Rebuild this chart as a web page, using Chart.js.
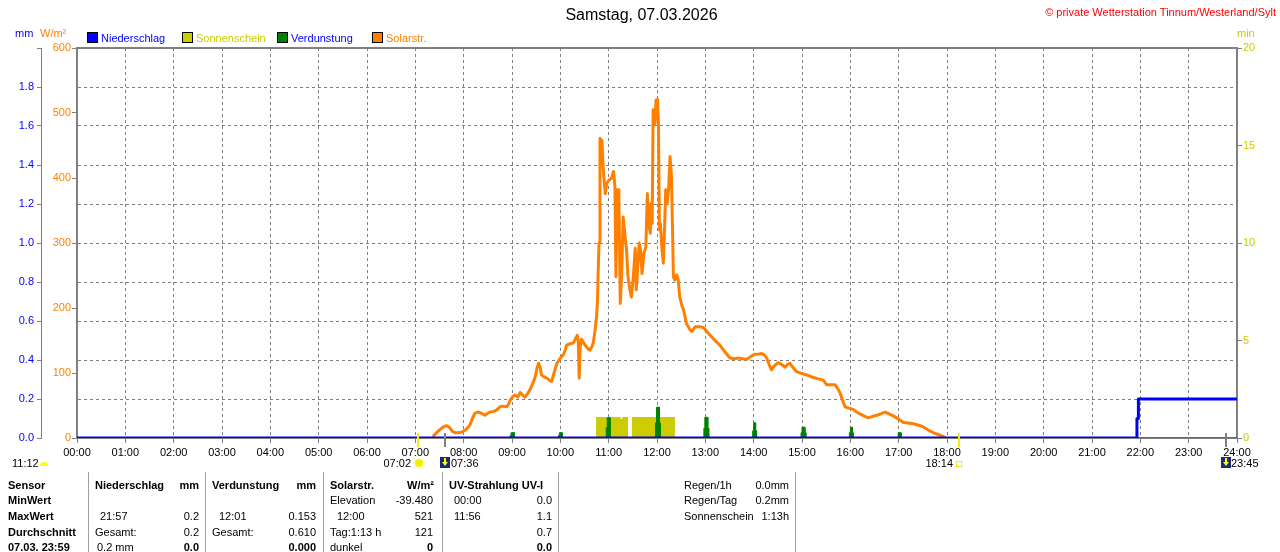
<!DOCTYPE html>
<html>
<head>
<meta charset="utf-8">
<script src="https://cdn.jsdelivr.net/npm/chart.js@4.4.1/dist/chart.umd.min.js"></script>
<style>
body{margin:0;background:#fff;font-family:"Liberation Sans",Arial,sans-serif;font-size:11px;color:#000}
#wrap{position:relative;width:1280px;height:552px;overflow:hidden}
canvas{position:absolute;left:0;top:0}
.t{position:absolute;white-space:nowrap;line-height:13px}
.b{font-weight:bold}
.sq{position:absolute;width:9px;height:9px;border:1px solid #000;top:32px}
.sep{position:absolute;top:472px;height:80px;width:1px;background:#a0a0a0}
</style>
</head>
<body>
<div id="wrap">
<canvas id="myChart" width="1280" height="552"></canvas>

<div class="t" style="left:0;width:1283px;text-align:center;top:6px;font-size:16px;line-height:18px">Samstag, 07.03.2026</div>
<div class="t" style="right:4px;top:6px;color:#ff0000">© private Wetterstation Tinnum/Westerland/Sylt</div>

<div class="t" style="left:15px;top:27px;color:#0000ff">mm</div>
<div class="t" style="left:40px;top:27px;color:#ff8000">W/m²</div>
<div class="t" style="left:1237px;top:27px;color:#cccc00">min</div>

<div class="sq" style="left:87px;background:#0000ff"></div>
<div class="t" style="left:101px;top:32px;color:#0000ff">Niederschlag</div>
<div class="sq" style="left:182px;background:#cccc00"></div>
<div class="t" style="left:196px;top:32px;color:#cccc00">Sonnenschein</div>
<div class="sq" style="left:277px;background:#008000"></div>
<div class="t" style="left:291px;top:32px;color:#0000ff">Verdunstung</div>
<div class="sq" style="left:372px;background:#ff8000"></div>
<div class="t" style="left:386px;top:32px;color:#ff8000">Solarstr.</div>

<div class="t" style="left:12px;top:457px">11:12</div>
<div class="t" style="right:869px;top:457px">07:02</div>
<div class="t" style="left:451px;top:457px">07:36</div>
<div class="t" style="right:327px;top:457px">18:14</div>
<div class="t" style="left:1231px;top:457px">23:45</div>

<div class="sep" style="left:88px"></div>
<div class="sep" style="left:205px"></div>
<div class="sep" style="left:323px"></div>
<div class="sep" style="left:442px"></div>
<div class="sep" style="left:558px"></div>
<div class="sep" style="left:795px"></div>

<div class="t b" style="left:8px;top:479px">Sensor</div>
<div class="t b" style="left:8px;top:494px">MinWert</div>
<div class="t b" style="left:8px;top:510px">MaxWert</div>
<div class="t b" style="left:8px;top:526px">Durchschnitt</div>
<div class="t b" style="left:8px;top:541px">07.03. 23:59</div>

<div class="t b" style="left:95px;top:479px">Niederschlag</div>
<div class="t b" style="right:1081px;top:479px">mm</div>
<div class="t" style="left:100px;top:510px">21:57</div>
<div class="t" style="right:1081px;top:510px">0.2</div>
<div class="t" style="left:95px;top:526px">Gesamt:</div>
<div class="t" style="right:1081px;top:526px">0.2</div>
<div class="t" style="left:97px;top:541px">0.2 mm</div>
<div class="t b" style="right:1081px;top:541px">0.0</div>

<div class="t b" style="left:212px;top:479px">Verdunstung</div>
<div class="t b" style="right:964px;top:479px">mm</div>
<div class="t" style="left:219px;top:510px">12:01</div>
<div class="t" style="right:964px;top:510px">0.153</div>
<div class="t" style="left:212px;top:526px">Gesamt:</div>
<div class="t" style="right:964px;top:526px">0.610</div>
<div class="t b" style="right:964px;top:541px">0.000</div>

<div class="t b" style="left:330px;top:479px">Solarstr.</div>
<div class="t b" style="right:846px;top:479px">W/m²</div>
<div class="t" style="left:330px;top:494px">Elevation</div>
<div class="t" style="right:847px;top:494px">-39.480</div>
<div class="t" style="left:337px;top:510px">12:00</div>
<div class="t" style="right:847px;top:510px">521</div>
<div class="t" style="left:330px;top:526px">Tag:1:13 h</div>
<div class="t" style="right:847px;top:526px">121</div>
<div class="t" style="left:330px;top:541px">dunkel</div>
<div class="t b" style="right:847px;top:541px">0</div>

<div class="t b" style="left:449px;top:479px">UV-Strahlung UV-I</div>
<div class="t" style="left:454px;top:494px">00:00</div>
<div class="t" style="right:728px;top:494px">0.0</div>
<div class="t" style="left:454px;top:510px">11:56</div>
<div class="t" style="right:728px;top:510px">1.1</div>
<div class="t" style="right:728px;top:526px">0.7</div>
<div class="t b" style="right:728px;top:541px">0.0</div>

<div class="t" style="left:684px;top:479px">Regen/1h</div>
<div class="t" style="right:491px;top:479px">0.0mm</div>
<div class="t" style="left:684px;top:494px">Regen/Tag</div>
<div class="t" style="right:491px;top:494px">0.2mm</div>
<div class="t" style="left:684px;top:510px">Sonnenschein</div>
<div class="t" style="right:491px;top:510px">1:13h</div>
</div>

<script>
// time in decimal hours (0 = 00:00, 24 = 24:00)
var rainTime = [0, 21.93, 21.93, 21.96, 21.96, 24];
var rainMm   = [0, 0,     0.1,   0.1,   0.2,   0.2];

var sunTime = [10.74, 10.74, 11.25, 11.25, 11.28, 11.28, 11.40, 11.40, 11.48, 11.48, 12.37, 12.37];
var sunMin  = [0,     1.08,  1.08,  0.97,  0.97,  1.08,  1.08,  0,     0,     1.08,  1.08,  0];

var evapTime = [0,
  8.96, 8.96, 8.98, 8.98, 9.05, 9.05,
  9.96, 9.96, 9.98, 9.98, 10.04, 10.04,
  10.95, 10.95, 10.97, 10.97, 11.03, 11.03,
  11.97, 11.97, 11.99, 11.99, 12.05, 12.05, 12.07, 12.07,
  12.97, 12.97, 12.99, 12.99, 13.05, 13.05, 13.07, 13.07,
  13.98, 13.98, 14.00, 14.00, 14.04, 14.04, 14.06, 14.06,
  14.98, 14.98, 15.00, 15.00, 15.06, 15.06, 15.08, 15.08,
  15.98, 15.98, 16.00, 16.00, 16.04, 16.04, 16.06, 16.06,
  16.99, 16.99, 17.05, 17.05,
  24];
var evapMm = [0,
  0, 0.013, 0.013, 0.027, 0.027, 0,
  0, 0.013, 0.013, 0.027, 0.027, 0,
  0, 0.053, 0.053, 0.104, 0.104, 0,
  0, 0.077, 0.077, 0.158, 0.158, 0.077, 0.077, 0,
  0, 0.05, 0.05, 0.106, 0.106, 0.05, 0.05, 0,
  0, 0.037, 0.037, 0.078, 0.078, 0.037, 0.037, 0,
  0, 0.027, 0.027, 0.055, 0.055, 0.027, 0.027, 0,
  0, 0.027, 0.027, 0.055, 0.055, 0.027, 0.027, 0,
  0, 0.027, 0.027, 0,
  0];

var solarTime = [7.36, 7.45, 7.51, 7.58, 7.65, 7.71, 7.77, 7.83, 7.89, 7.96, 8.03, 8.10, 8.13, 8.18, 8.23, 8.29, 8.34, 8.44, 8.50, 8.55,
  8.62, 8.68, 8.75, 8.82, 8.89, 8.93, 8.96, 9.02, 9.06, 9.12, 9.17, 9.22, 9.27, 9.32, 9.37, 9.43, 9.48, 9.52, 9.55, 9.58,
  9.61, 9.67, 9.72, 9.77, 9.82, 9.87, 9.93, 10.00, 10.06, 10.10, 10.13, 10.20, 10.27, 10.31, 10.35, 10.37, 10.39, 10.41, 10.44, 10.51,
  10.58, 10.61, 10.65, 10.68, 10.72, 10.75, 10.77, 10.78, 10.80, 10.82, 10.84, 10.86, 10.88, 10.90, 10.93, 10.96, 11.01, 11.06, 11.10, 11.13,
  11.15, 11.17, 11.18, 11.21, 11.24, 11.27, 11.30, 11.34, 11.37, 11.40, 11.44, 11.47, 11.51, 11.55, 11.57, 11.59, 11.63, 11.66, 11.69, 11.73,
  11.77, 11.80, 11.83, 11.86, 11.88, 11.90, 11.92, 11.96, 11.98, 12.01, 12.03, 12.05, 12.07, 12.10, 12.13, 12.16, 12.18, 12.21, 12.24, 12.27,
  12.30, 12.34, 12.37, 12.41, 12.44, 12.47, 12.51, 12.55, 12.61, 12.68, 12.72, 12.79, 12.88, 12.96, 13.03, 13.10, 13.20, 13.30, 13.40, 13.51,
  13.60, 13.68, 13.77, 13.86, 13.95, 14.03, 14.10, 14.17, 14.22, 14.27, 14.32, 14.37, 14.44, 14.51, 14.58, 14.65, 14.70, 14.75, 14.82, 14.89,
  15.00, 15.10, 15.17, 15.24, 15.34, 15.44, 15.51, 15.60, 15.68, 15.74, 15.79, 15.84, 15.89, 15.97, 16.06, 16.13, 16.20, 16.28, 16.37, 16.45,
  16.55, 16.63, 16.72, 16.80, 16.89, 17.00, 17.10, 17.20, 17.30, 17.40, 17.51, 17.62, 17.72, 17.83, 17.93, 17.97];
var solarW = [2, 9, 13, 17, 19, 16, 10, 8, 8, 9, 12, 17, 20, 30, 38, 40, 39, 35, 38, 40,
  41, 43, 48, 49, 48, 52, 58, 64, 66, 63, 70, 66, 63, 68, 74, 84, 94, 108, 115, 110,
  97, 94, 92, 89, 87, 100, 115, 123, 128, 135, 143, 145, 146, 152, 158, 150, 92, 140, 152, 143,
  137, 135, 140, 146, 166, 187, 212, 248, 300, 461, 455, 458, 425, 402, 376, 392, 397, 400, 410, 387,
  248, 360, 382, 382, 207, 253, 340, 310, 289, 248, 228, 217, 248, 292, 228, 248, 300, 289, 253, 284,
  294, 376, 330, 315, 361, 330, 505, 484, 520, 521, 484, 320, 330, 294, 269, 330, 382, 361, 382, 433,
  402, 248, 243, 251, 243, 217, 205, 197, 176, 167, 164, 171, 171, 170, 164, 158, 150, 143, 133, 123,
  122, 123, 122, 121, 126, 129, 129, 130, 128, 123, 113, 105, 112, 116, 113, 109, 113, 115, 108, 102,
  99, 97, 95, 93, 91, 89, 82, 82, 82, 76, 69, 58, 48, 46, 44, 40, 37, 34, 31, 33,
  35, 37, 40, 37, 34, 29, 24, 23, 22, 20, 17, 12, 8, 5, 2, 0];

var sunEvents = [7.033, 18.233];   // 07:02 Aufgang, 18:14 Untergang
var moonEvents = [7.6, 23.75];     // 07:36, 23:45

function pairs(xs, ys) {
  return xs.map(function (x, i) { return {x: x, y: ys[i]}; });
}

var gray = '#808080';

var frame = {
  id: 'frame',
  afterDraw: function (chart) {
    var c = chart.ctx, a = chart.chartArea, xs = chart.scales.x;
    c.save();
    c.strokeStyle = gray;
    c.lineWidth = 2;
    c.beginPath();
    c.moveTo(a.left - 1, a.top);
    c.lineTo(a.right + 1, a.top);
    c.stroke();

    // sunrise / sunset ticks
    sunEvents.forEach(function (t, i) {
      var x = Math.round(xs.getPixelForValue(t));
      c.fillStyle = '#f0f000';
      c.fillRect(x, a.bottom - 5, 2, 14);
      if (i === 0) {
        c.beginPath();
        c.arc(x + 2, 463, 4, 0, Math.PI * 2);
        c.fill();
        c.strokeStyle = '#ffff60';
        c.lineWidth = 1;
        for (var k = 0; k < 8; k++) {
          var ang = k * Math.PI / 4;
          c.beginPath();
          c.moveTo(x + 2 + Math.cos(ang) * 5, 463 + Math.sin(ang) * 5);
          c.lineTo(x + 2 + Math.cos(ang) * 7, 463 + Math.sin(ang) * 7);
          c.stroke();
        }
      } else {
        c.strokeStyle = '#f0f000';
        c.lineWidth = 1;
        c.strokeRect(x - 1.5, 461.5, 5, 5);
      }
    });

    // moon ticks
    moonEvents.forEach(function (t) {
      var x = Math.round(xs.getPixelForValue(t));
      c.fillStyle = gray;
      c.fillRect(x, a.bottom - 5, 2, 14);
      c.fillStyle = '#1a2a80';
      c.fillRect(x - 4, 457, 10, 11);
      c.fillStyle = '#ffff00';
      c.beginPath();
      c.moveTo(x - 2, 462);
      c.lineTo(x + 4, 462);
      c.lineTo(x + 1, 466);
      c.closePath();
      c.fill();
      c.fillRect(x, 458, 2, 4);
    });

    // noon sun marker
    c.fillStyle = '#ffff00';
    c.beginPath();
    c.arc(44, 466, 4, Math.PI, 0);
    c.fill();
    c.restore();
  }
};

var ctx = document.getElementById('myChart').getContext('2d');
var myChart = new Chart(ctx, {
  type: 'line',
  data: {
    datasets: [
      {label: 'Niederschlag', data: pairs(rainTime, rainMm), yAxisID: 'yMm',
        borderColor: '#0000ff', borderWidth: 3, fill: false, order: 1},
      {label: 'Solarstr.', data: pairs(solarTime, solarW), yAxisID: 'yW',
        borderColor: '#ff8000', borderWidth: 3, fill: false, order: 2},
      {label: 'Verdunstung', data: pairs(evapTime, evapMm), yAxisID: 'yMm',
        borderColor: '#008000', backgroundColor: '#008000', borderWidth: 1, fill: 'origin', order: 3},
      {label: 'Sonnenschein', data: pairs(sunTime, sunMin), yAxisID: 'yMin',
        borderColor: '#cccc00', backgroundColor: '#cccc00', borderWidth: 0, fill: 'origin', order: 4}
    ]
  },
  options: {
    responsive: false,
    animation: false,
    devicePixelRatio: 1,
    layout: {padding: {top: 48, left: 0, right: 0, bottom: 0}},
    elements: {point: {radius: 0}, line: {tension: 0, borderJoinStyle: 'round'}},
    plugins: {legend: {display: false}, tooltip: {enabled: false}},
    scales: {
      x: {
        type: 'linear', min: 0, max: 24,
        afterFit: function (s) { s.height = 114; },
        ticks: {
          stepSize: 1, autoSkip: false, maxRotation: 0, padding: 3,
          color: '#000', font: {family: 'Liberation Sans', size: 11},
          callback: function (v) { return (v < 10 ? '0' : '') + v + ':00'; }
        },
        grid: {color: gray, lineWidth: 1, tickLength: 5, tickColor: gray},
        border: {color: gray, width: 2, dash: [3, 3]}
      },
      yMm: {
        type: 'linear', position: 'left', weight: 1, min: 0, max: 2,
        afterFit: function (s) { s.width = 41; },
        ticks: {
          stepSize: 0.2, padding: 3, color: '#0000ff', font: {family: 'Liberation Sans', size: 11},
          callback: function (v) { return v > 1.99 ? '' : v.toFixed(1); }
        },
        grid: {color: gray, lineWidth: 1, tickLength: 4, tickColor: gray},
        border: {color: gray, width: 1, dash: [3, 3]}
      },
      yW: {
        type: 'linear', position: 'left', weight: 0, min: 0, max: 600,
        afterFit: function (s) { s.width = 36; },
        ticks: {stepSize: 100, padding: 1, color: '#ff8000', font: {family: 'Liberation Sans', size: 11}},
        grid: {drawOnChartArea: false, tickLength: 5, tickColor: gray},
        border: {color: gray, width: 2}
      },
      yMin: {
        type: 'linear', position: 'right', min: 0, max: 20,
        afterFit: function (s) { s.width = 43; },
        ticks: {stepSize: 5, padding: 1, color: '#cccc00', font: {family: 'Liberation Sans', size: 11}},
        grid: {drawOnChartArea: false, tickLength: 5, tickColor: gray},
        border: {color: gray, width: 2}
      }
    }
  },
  plugins: [frame]
});
</script>
</body>
</html>
